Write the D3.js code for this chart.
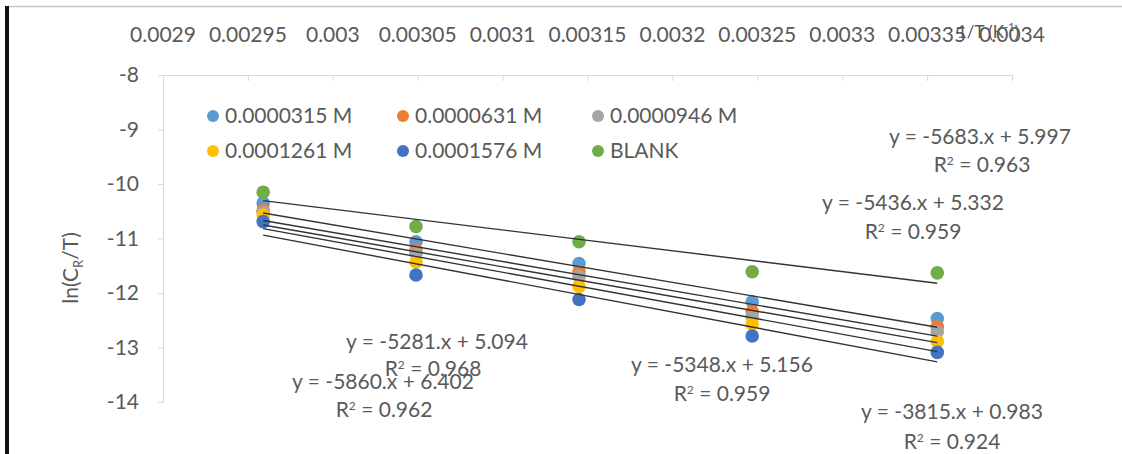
<!DOCTYPE html>
<html>
<head>
<meta charset="utf-8">
<script src="https://cdn.jsdelivr.net/npm/d3@7"></script>
<style>
  html, body { margin: 0; padding: 0; background: #fff; }
  svg text { font-family: Lato, "Open Sans", sans-serif; fill: #595959; }
</style>
</head>
<body>
<svg id="chart" width="1122" height="454"></svg>
<script>
// 1/T values (K^-1) for 338, 328, 318, 308, 298 K
const invT = [0.002959, 0.003049, 0.003145, 0.003247, 0.003356];

const seriesNames = ["0.0000315 M", "0.0000631 M", "0.0000946 M", "0.0001261 M", "0.0001576 M", "BLANK"];
const seriesColors = ["#5B9BD5", "#ED7D31", "#A5A5A5", "#FFC000", "#4472C4", "#70AD47"];

// ln(CR/T)
const c0000315 = [-10.35, -11.06, -11.46, -12.16, -12.47];
const c0000631 = [-10.48, -11.21, -11.61, -12.34, -12.62];
const c0000946 = [-10.52, -11.27, -11.70, -12.43, -12.71];
const c0001261 = [-10.57, -11.43, -11.88, -12.57, -12.89];
const c0001576 = [-10.69, -11.67, -12.12, -12.79, -13.09];
const blank    = [-10.15, -10.78, -11.06, -11.61, -11.63];
const seriesValues = [c0000315, c0000631, c0000946, c0001261, c0001576, blank];

// linear trendlines as printed on the chart
const slopes = [-5281, -5348, -5436, -5683, -5860, -3815];
const intercepts = [5.094, 5.156, 5.332, 5.997, 6.402, 0.983];
const rSquared = [0.968, 0.959, 0.959, 0.963, 0.962, 0.924];

const xTicks = [0.0029, 0.00295, 0.003, 0.00305, 0.0031, 0.00315, 0.0032, 0.00325, 0.0033, 0.00335, 0.0034];
const yTicks = [-8, -9, -10, -11, -12, -13, -14];

// where Excel left each equation label (centre, px)
const eqLayout = [
    {x: 437, y: 342, rx: 433, ry: 369},
    {x: 722, y: 365, rx: 722, ry: 394},
    {x: 913, y: 203, rx: 913, ry: 232},
    {x: 980, y: 137, rx: 982, ry: 165},
    {x: 383, y: 382, rx: 384, ry: 410},
    {x: 952, y: 412, rx: 952, ry: 442}
];

const svg = d3.select("#chart");
const fontSize = 21;

const x = d3.scaleLinear().domain([0.0029, 0.0034]).range([163, 1012]);
const y = d3.scaleLinear().domain([-8, -14]).range([75, 402]);

// chart frame edges
svg.append("line").attr("x1", 8).attr("x2", 1122).attr("y1", 6.5).attr("y2", 6.5)
    .attr("stroke", "#c8c8c8").attr("stroke-width", 1.5);
svg.append("line").attr("x1", 7).attr("x2", 7).attr("y1", 6).attr("y2", 454)
    .attr("stroke", "#111").attr("stroke-width", 4);

// top x axis (crosses at -8)
const xAxis = d3.axisBottom(x).tickValues(xTicks).tickSize(6).tickFormat("");
const gx = svg.append("g").attr("transform", `translate(0,${y(-8)})`).call(xAxis);
gx.select(".domain").attr("stroke", "#d9d9d9");
gx.selectAll(".tick line").attr("stroke", "#d9d9d9");
svg.append("g").selectAll("text").data(xTicks).join("text")
    .attr("x", d => x(d)).attr("y", 42)
    .attr("text-anchor", "middle").style("font-size", fontSize + "px")
    .text(d => String(d));

const xTitle = svg.append("text").attr("x", 988).attr("y", 38)
    .attr("text-anchor", "middle").style("font-size", "17px");
xTitle.append("tspan").text("1/T (K");
xTitle.append("tspan").attr("dy", -7).style("font-size", "11px").text("-1");
xTitle.append("tspan").attr("dy", 7).text(")");

// left y axis
const yAxis = d3.axisLeft(y).tickValues(yTicks).tickSize(5).tickFormat("");
const gy = svg.append("g").attr("transform", `translate(${x(0.0029)},0)`).call(yAxis);
gy.select(".domain").attr("stroke", "#d9d9d9");
gy.selectAll(".tick line").attr("stroke", "#d9d9d9");
svg.append("g").selectAll("text").data(yTicks).join("text")
    .attr("x", 139).attr("y", d => y(d)).attr("dy", "0.35em")
    .attr("text-anchor", "end").style("font-size", fontSize + "px")
    .text(d => String(d));

const yTitle = svg.append("text")
    .attr("transform", "translate(78,268) rotate(-90)")
    .attr("text-anchor", "middle").style("font-size", fontSize + "px");
yTitle.append("tspan").text("ln(C");
yTitle.append("tspan").attr("dy", 5).style("font-size", "13px").text("R");
yTitle.append("tspan").attr("dy", -5).text("/T)");

// markers
const points = svg.append("g");
seriesValues.forEach((vals, i) => {
    points.selectAll(null).data(vals).join("circle")
        .attr("cx", (d, j) => x(invT[j]))
        .attr("cy", d => y(d))
        .attr("r", 6.8)
        .attr("fill", seriesColors[i]);
});

// trendlines over the data range
const line = d3.line().x(d => x(d[0])).y(d => y(d[1]));
const xMin = d3.min(invT), xMax = d3.max(invT);
svg.append("g").selectAll("path").data(slopes).join("path")
    .attr("d", (m, i) => line([[xMin, m * xMin + intercepts[i]], [xMax, m * xMax + intercepts[i]]]))
    .attr("fill", "none").attr("stroke", "#333").attr("stroke-width", 1.4);

// equation labels
const eqs = svg.append("g").style("font-size", fontSize + "px");
slopes.forEach((m, i) => {
    const p = eqLayout[i];
    eqs.append("text").attr("x", p.x).attr("y", p.y).attr("dy", "0.35em")
        .attr("text-anchor", "middle")
        .text(`y = ${m}.x + ${intercepts[i].toFixed(3)}`);
    const r = eqs.append("text").attr("x", p.rx).attr("y", p.ry).attr("dy", "0.35em")
        .attr("text-anchor", "middle");
    r.append("tspan").text("R");
    r.append("tspan").attr("dy", -7).style("font-size", "12px").text("2");
    r.append("tspan").attr("dy", 7).text(` = ${rSquared[i].toFixed(3)}`);
});

// legend, three per row
const legendCols = [213, 403, 598];
const legendRows = [116, 151];
const legend = svg.append("g").selectAll("g").data(seriesNames).join("g")
    .attr("transform", (d, i) => `translate(${legendCols[i % 3]},${legendRows[Math.floor(i / 3)]})`);
legend.append("circle").attr("r", 6).attr("fill", (d, i) => seriesColors[i]);
legend.append("text").attr("x", 12).attr("dy", "0.35em")
    .style("font-size", fontSize + "px").text(d => d);
</script>
</body>
</html>
